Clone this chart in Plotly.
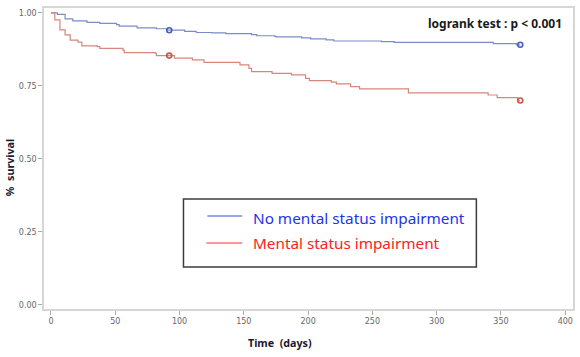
import plotly.graph_objects as go

# Kaplan-Meier estimates
no_impair_t = [0, 5, 11, 17, 28, 38, 51, 53, 67, 82, 90, 104, 113, 125, 136, 156, 160, 174, 175,
               195, 202, 214, 220, 257, 267, 344, 362, 365]
no_impair_s = [1.0, 0.995, 0.98, 0.973, 0.968, 0.964, 0.96, 0.955, 0.949, 0.946, 0.941, 0.937, 0.933,
               0.932, 0.929, 0.926, 0.922, 0.92, 0.918, 0.915, 0.911, 0.908, 0.904, 0.902, 0.899,
               0.895, 0.891, 0.891]
impair_t = [0, 3, 7, 11, 15, 21, 24, 36, 38, 56, 57, 81, 82, 96, 110, 119, 147, 154, 156, 172, 187,
            198, 201, 218, 222, 233, 240, 278, 340, 347, 363, 365]
impair_s = [1.0, 0.976, 0.942, 0.925, 0.907, 0.9, 0.887, 0.885, 0.879, 0.873, 0.864, 0.862, 0.854,
            0.845, 0.839, 0.831, 0.822, 0.81, 0.799, 0.793, 0.788, 0.776, 0.768, 0.763, 0.757, 0.748,
            0.74, 0.726, 0.719, 0.71, 0.70, 0.70]
no_impair_cens_t = [92, 365]
no_impair_cens_s = [0.941, 0.891]
impair_cens_t = [92, 365]
impair_cens_s = [0.854, 0.70]

x_ticks = [0, 50, 100, 150, 200, 250, 300, 350, 400]
y_ticks = [0.0, 0.25, 0.5, 0.75, 1.0]
y_tick_text = ["0.00", "0.25", "0.50", "0.75", "1.00"]
legend_labels = ["No mental status impairment", "Mental status impairment"]
annotation_text = "logrank test : p < 0.001"

fig = go.Figure()
fig.add_trace(go.Scatter(x=no_impair_t, y=no_impair_s, mode="lines", line=dict(shape="hv", color="#7b8cc8", width=1.2),
                         showlegend=False, hoverinfo="skip"))
fig.add_trace(go.Scatter(x=impair_t, y=impair_s, mode="lines", line=dict(shape="hv", color="#d6877a", width=1.2),
                         showlegend=False, hoverinfo="skip"))
fig.add_trace(go.Scatter(x=no_impair_cens_t, y=no_impair_cens_s, mode="markers",
                         marker=dict(symbol="circle-open", size=5, color="#4a62b0", line=dict(width=1.6)),
                         showlegend=False))
fig.add_trace(go.Scatter(x=impair_cens_t, y=impair_cens_s, mode="markers",
                         marker=dict(symbol="circle-open", size=5, color="#c25a4e", line=dict(width=1.6)),
                         showlegend=False))

tickfont = dict(family="DejaVu Sans", size=8, color="#666666")
fig.update_xaxes(range=[-5.4, 406], tickvals=x_ticks, ticks="outside", ticklen=4, tickcolor="#aaaaaa",
                 showline=True, linecolor="#d6d6d6", linewidth=1.5, mirror=True, showgrid=False,
                 zeroline=False, tickfont=tickfont)
fig.update_yaxes(range=[-0.014, 1.017], tickvals=y_ticks, ticktext=y_tick_text, ticks="outside", ticklen=4,
                 tickcolor="#aaaaaa", showline=True, linecolor="#d6d6d6", linewidth=1.5, mirror=True,
                 showgrid=False, zeroline=False, tickfont=tickfont)

W, H = 580, 357
L, R, T, B = 44, 5, 8, 48
pw, ph = W - L - R, H - T - B

def px(x):
    return (x - L) / pw

def py(y):
    return 1 - (y - T) / ph

shapes = [
    dict(type="rect", xref="paper", yref="paper", x0=px(184), x1=px(478), y0=py(267), y1=py(199),
         line=dict(color="#3c3c3c", width=1.5), fillcolor="white", layer="above"),
    dict(type="line", xref="paper", yref="paper", x0=px(208), x1=px(243), y0=py(216), y1=py(216),
         line=dict(color="#3a4fe0", width=1.2)),
    dict(type="line", xref="paper", yref="paper", x0=px(207), x1=px(243), y0=py(243), y1=py(243),
         line=dict(color="#ff3030", width=1.2)),
]
annotations = [
    dict(text=legend_labels[0], xref="paper", yref="paper", x=px(252), y=py(218), xanchor="left",
         yanchor="middle", showarrow=False, font=dict(family="Noto Sans", size=15.3, color="#2233ee")),
    dict(text=legend_labels[1], xref="paper", yref="paper", x=px(252), y=py(243), xanchor="left",
         yanchor="middle", showarrow=False, font=dict(family="Noto Sans", size=15.3, color="#ff2020")),
    dict(text="<b>" + annotation_text + "</b>", xref="paper", yref="paper", x=px(566), y=py(23),
         xanchor="right", yanchor="middle", showarrow=False,
         font=dict(family="Noto Sans", size=12, color="#1a1a1a")),
    dict(text="<b>Time  (days)</b>", xref="paper", yref="paper", x=px(281), y=py(343), xanchor="center",
         yanchor="middle", showarrow=False, font=dict(family="Noto Sans", size=10.7, color="#1a1a2e")),
    dict(text="<b>%  survival</b>", xref="paper", yref="paper", x=px(10), y=py(168), xanchor="center",
         yanchor="middle", showarrow=False, textangle=-90,
         font=dict(family="Noto Sans", size=10.7, color="#1a1a2e")),
]

fig.update_layout(width=W, height=H, margin=dict(l=L, r=R, t=T, b=B), plot_bgcolor="white",
                  paper_bgcolor="white", shapes=shapes, annotations=annotations, showlegend=False)
fig.write_html("out.html", config={"displayModeBar": False},
               post_script="document.body.style.margin='0';")
